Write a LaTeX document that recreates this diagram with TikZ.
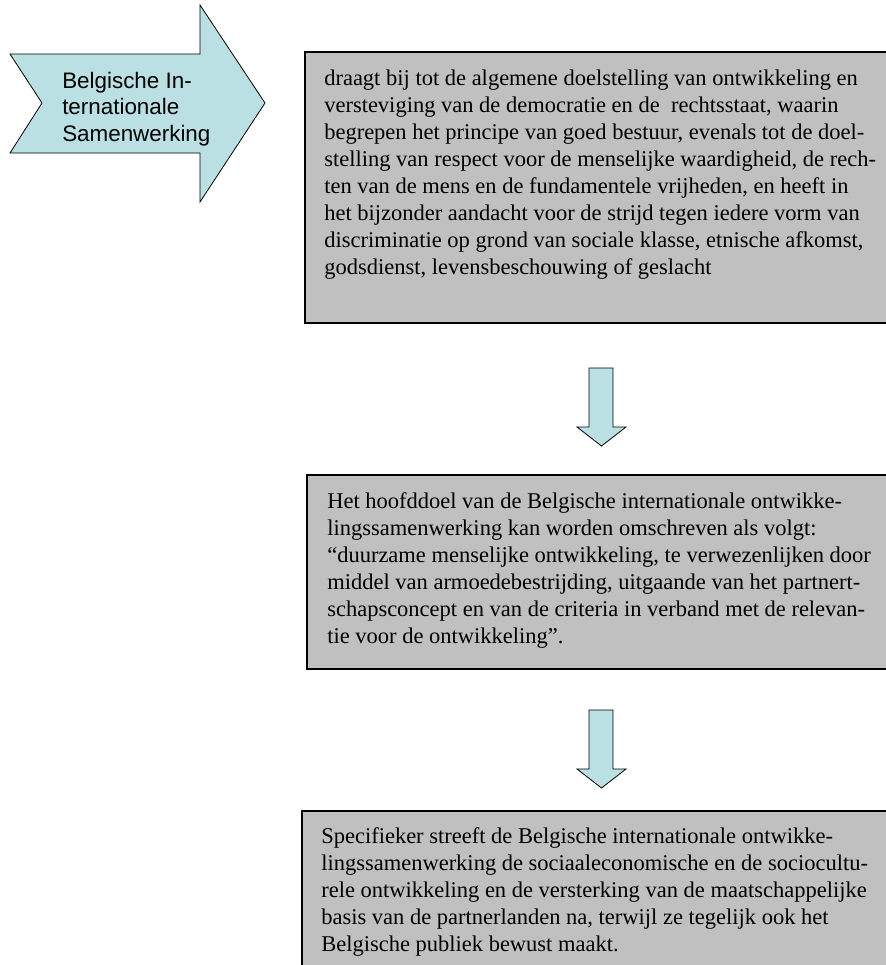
\documentclass[tikz,border=0pt]{standalone}
\usepackage{fontspec}
\setmainfont{Liberation Serif}
\newfontfamily\arrowfont{Liberation Sans}
\usepackage{tikz}
\usetikzlibrary{calc}

\definecolor{arrowblue}{RGB}{187,224,227}
\definecolor{panelgray}{RGB}{192,192,192}

\tikzset{
	panel/.style={draw=black, fill=panelgray, line width=1.1pt},
	blockarrow/.style={draw=black, fill=arrowblue, line width=0.6pt, line join=miter},
	paneltext/.style={anchor=north west, inner sep=0pt, align=left, font=\fontsize{16.875}{20.25}\selectfont},
	arrowtext/.style={anchor=north west, inner sep=0pt, align=left, font=\arrowfont\fontsize{16.8}{19.9}\selectfont}
}

\begin{document}
\begin{tikzpicture}[x=0.75pt, y=-0.75pt]
		\useasboundingbox (0,0) rectangle (886,965);
		\clip (0,0) rectangle (886,965);

		% left arrow
		\draw[blockarrow] (10,54) -- (200,54) -- (200,5) -- (265,103) -- (200,202) -- (200,153) -- (10,153) -- (42,103) -- cycle;
		\node[arrowtext] (bis) at (62,71.5) {Belgische In-\\ternationale\\Samenwerking};

		% the three panels (right border runs off the page)
		\draw[panel] (305,52) rectangle (892,323);
		\draw[panel] (307,475) rectangle (892,669);
		\draw[panel] (302,811) rectangle (892,980);

		\node[paneltext] (doel) at (324,69.6) {draagt bij tot de algemene doelstelling van ontwikkeling en\\
			versteviging van de democratie en de~ rechtsstaat, waarin\\
			begrepen het principe van goed bestuur, evenals tot de doel-\\
			stelling van respect voor de menselijke waardigheid, de rech-\\
			ten van de mens en de fundamentele vrijheden, en heeft in\\
			het bijzonder aandacht voor de strijd tegen iedere vorm van\\
			discriminatie op grond van sociale klasse, etnische afkomst,\\
			godsdienst, levensbeschouwing of geslacht};

		\node[paneltext] (hoofddoel) at (327,492.6) {Het hoofddoel van de Belgische internationale ontwikke-\\
			lingssamenwerking kan worden omschreven als volgt:\\
			“duurzame menselijke ontwikkeling, te verwezenlijken door\\
			middel van armoedebestrijding, uitgaande van het partnert-\\
			schapsconcept en van de criteria in verband met de relevan-\\
			tie voor de ontwikkeling”.};

		\node[paneltext] (specifiek) at (321,827.6) {Specifieker streeft de Belgische internationale ontwikke-\\
			lingssamenwerking de sociaaleconomische en de sociocultu-\\
			rele ontwikkeling en de versterking van de maatschappelijke\\
			basis van de partnerlanden na, terwijl ze tegelijk ook het\\
			Belgische publiek bewust maakt.};

		% down arrows between the panels
		\foreach \top in {368,710}
			\draw[blockarrow] (589,\top) -- (613,\top) -- (613,\top+59) -- (626,\top+59) -- (601.5,\top+78) -- (577,\top+59) -- (589,\top+59) -- cycle;
	\end{tikzpicture}
\end{document}
